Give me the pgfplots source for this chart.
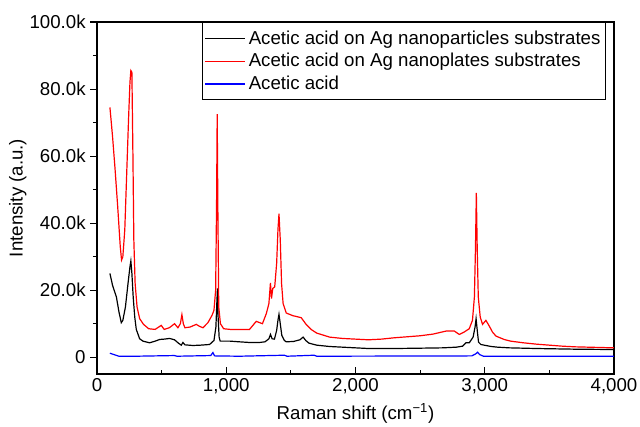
\documentclass[border=0pt]{standalone}
\usepackage{fontspec}
\setmainfont{Liberation Sans}
\usepackage{pgfplots}
\pgfplotsset{compat=1.18}
\begin{document}
\begin{tikzpicture}
\path[use as bounding box] (-72.75pt,-39.75pt) rectangle (407.25pt,280.5pt);
\begin{axis}[
 at={(0,0)}, anchor=south west,
 scale only axis, width=387.75pt, height=264pt,
 xmin=0, xmax=4000, ymin=-5, ymax=100,
 xtick={0,1000,2000,3000,4000},
 ytick={0,20,40,60,80,100},
 yticklabels={0,20.0k,40.0k,60.0k,80.0k,100.0k},
 minor x tick num=1, minor y tick num=1,
 xtick pos=bottom, ytick pos=left,
 xtick align=inside, ytick align=outside,
 major tick length=5pt, minor tick length=3pt,
 every tick/.style={black, line width=0.8pt},
 /pgf/number format/assume math mode=true,
 /pgf/number format/1000 sep={,},
 scaled x ticks=false,
 tick label style={font=\fontsize{14}{16}\selectfont, black},
 xlabel style={font=\fontsize{14}{16}\selectfont},
 xlabel={Raman shift (cm\textsuperscript{−1})},
 ylabel={Intensity (a.u.)},
 every axis y label/.style={at={(axis description cs:-0.153,0.5)}, rotate=90, anchor=center, font=\fontsize{14}{16}\selectfont},
 axis line style={line width=1pt},
 legend style={at={(axis description cs:0.984,1)}, anchor=north east, font=\fontsize{14}{16}\selectfont, draw=black, line width=0.8pt, inner xsep=1.5pt, inner ysep=4pt, row sep=1.5pt, legend cell align=left},
 legend image code/.code={\draw[#1, line width=0.9pt] (0pt,0pt) -- (30pt,0pt);},
]
\addplot[black, line width=0.9pt] coordinates {
(100,25) (120,21.5) (150,18) (170,13.5) (188,10.3) (200,11) (220,15) (240,22) (255,27) (262,28.7) (270,25) (280,18) (292,12) (304,8.3) (330,5.5) (356,4.8) (407,4.3) (450,4.8) (485,5.3) (520,5.4) (562,5.6) (600,5.2) (630,4.2) (652,3.6) (665,4.4) (680,3.7) (742,3.5) (800,3.6) (871,3.8) (905,5) (920,9) (927,16) (932,20.5) (937,12) (945,6) (953,4.8) (1030,4.8) (1100,4.6) (1180,4.4) (1257,4.4) (1300,4.6) (1330,5.5) (1342,6.8) (1355,5.5) (1373,5.4) (1390,8) (1400,11) (1408,12.8) (1418,10) (1430,6.5) (1450,5) (1464,4.6) (1520,4.7) (1570,5.2) (1595,6) (1615,5) (1640,4.2) (1700,3.6) (1800,3.2) (1900,3) (2000,2.8) (2100,2.6) (2300,2.6) (2500,2.7) (2674,2.8) (2780,3.0) (2829,3.3) (2855,4.3) (2880,4.3) (2910,6) (2925,9) (2933,11.5) (2942,8) (2952,4.5) (2970,3.8) (3009,3.5) (3050,3.2) (3100,3) (3189,2.8) (3400,2.6) (3700,2.4) (4000,2.3)
};
\addlegendentry{Acetic acid on Ag nanoparticles substrates}
\addplot[red, line width=0.9pt] coordinates {
(100,74.5) (120,66) (140,56) (160,45) (180,33) (190,29) (200,30) (215,38) (230,55) (245,72) (255,82) (262,85.5) (270,85) (278,60) (285,35) (295,22) (310,15) (330,11.5) (360,9.8) (400,8.5) (450,8.3) (497,9.5) (520,8.3) (560,8.8) (600,10) (626,8.8) (645,10) (657,12.7) (668,10) (680,8.8) (720,9) (768,9.8) (794,9.2) (820,8.8) (858,10.3) (890,12.5) (905,14) (918,20) (925,45) (930,72.5) (935,45) (942,15) (955,10) (980,8.5) (1030,8.3) (1100,8.3) (1180,8.3) (1232,10.7) (1280,10) (1310,13) (1330,16) (1342,22.2) (1350,17.5) (1360,20.5) (1375,21) (1390,28) (1400,38) (1408,42.8) (1418,35) (1428,22) (1440,16) (1464,13.2) (1515,12.4) (1580,11.8) (1618,9.8) (1660,8.2) (1700,7.2) (1800,6) (1900,5.6) (2000,5.4) (2100,5.2) (2200,5.4) (2300,5.8) (2400,6.1) (2500,6.4) (2600,6.9) (2700,7.8) (2765,7.8) (2803,6.8) (2840,7.5) (2880,8.5) (2905,11) (2920,18) (2928,32) (2935,49) (2942,32) (2950,18) (2965,12) (2983,9.8) (3009,11) (3035,9.3) (3060,7.5) (3087,6.3) (3150,5.3) (3200,4.8) (3300,4.3) (3400,3.9) (3500,3.6) (3600,3.3) (3700,3.1) (3800,3) (3900,2.9) (4000,2.8)
};
\addlegendentry{Acetic acid on Ag nanoplates substrates}
\addplot[blue, line width=0.9pt] coordinates {
(100,1.2) (130,0.8) (170,0.3) (300,0.3) (598,0.5) (620,0.3) (880,0.5) (897,1.4) (910,0.4) (1100,0.3) (1450,0.6) (1470,0.3) (1680,0.6) (1700,0.3) (2900,0.4) (2930,1.0) (2945,1.5) (2960,0.8) (2990,0.3) (4000,0.3)
};
\addlegendentry{Acetic acid}
\end{axis}
\end{tikzpicture}
\end{document}
